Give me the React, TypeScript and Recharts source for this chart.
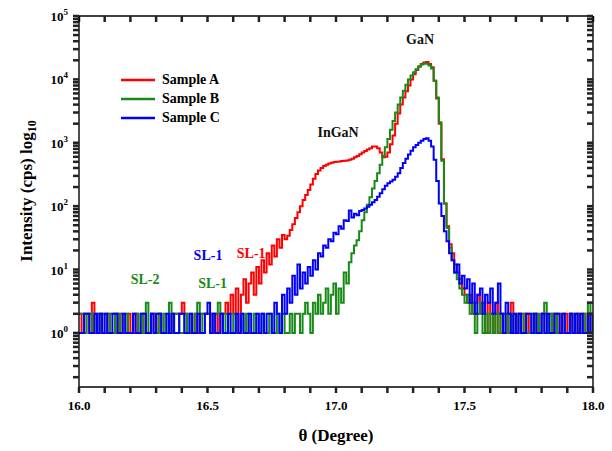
import { LineChart, Line, XAxis, YAxis, Legend, ReferenceDot } from 'recharts';

// theta runs 16.00 .. 18.00 in 0.01 steps, one value per step
const thetaStart = 16;
const thetaStep = 0.01;

const sampleA = [
  2, 1, 2, 2, 1, 3, 1, 1, 2, 1,
  1, 2, 1, 1, 2, 1, 2, 1, 1, 2,
  1, 1, 2, 1, 1, 2, 1, 1, 2, 1,
  1, 2, 1, 1, 1, 1, 2, 2, 2, 2,
  3, 2, 1, 1, 1, 2, 1, 2, 2, 2,
  2, 2, 1, 2, 1, 2, 2, 3, 2, 4,
  2, 5, 1, 4, 7, 3, 6, 9, 4, 11,
  6, 14, 9, 18, 12, 24, 16, 30, 22, 35,
  30, 34, 42, 52, 65, 80, 100, 125, 150, 180,
  220, 270, 320, 365, 400, 430, 450, 470, 485, 495,
  500, 505, 515, 520, 525, 540, 560, 590, 620, 660,
  700, 740, 780, 820, 870, 870, 820, 700, 590, 600,
  700, 950, 1300, 2000, 2900, 4000, 5200, 6500, 8000, 10000,
  12000, 14000, 16000, 17500, 18500, 18800, 17500, 15500, 9500, 5000,
  2000, 550, 110, 48, 25, 18, 12, 9, 7, 5,
  4, 3, 4, 2, 3, 4, 2, 3, 1, 3,
  2, 1, 3, 2, 1, 2, 2, 1, 3, 1,
  1, 2, 2, 1, 2, 1, 1, 2, 1, 1,
  2, 2, 1, 1, 2, 1, 2, 1, 1, 2,
  1, 2, 1, 1, 2, 1, 2, 1, 2, 1,
  1,
];

const sampleB = [
  2, 2, 1, 2, 2, 1, 2, 2, 1, 2,
  2, 1, 2, 2, 1, 2, 1, 1, 2, 1,
  1, 2, 2, 1, 2, 1, 3, 1, 2, 2,
  1, 2, 1, 2, 1, 3, 1, 2, 2, 1,
  1, 2, 1, 2, 1, 2, 3, 1, 2, 2,
  2, 1, 2, 2, 3, 2, 1, 2, 1, 1,
  2, 1, 1, 2, 1, 2, 1, 1, 2, 1,
  1, 2, 1, 1, 2, 1, 1, 2, 1, 2,
  1, 1, 2, 1, 2, 2, 1, 2, 3, 2,
  1, 3, 2, 4, 2, 3, 5, 2, 4, 6,
  2, 5, 3, 9, 6, 13, 18, 24, 29, 40,
  60, 80, 105, 138, 190, 250, 330, 450, 620, 850,
  1150, 1600, 2200, 3000, 4000, 5200, 6600, 8200, 10000, 11500,
  13000, 14500, 16000, 17200, 17800, 17600, 16500, 14800, 9500, 5200,
  2100, 520, 110, 45, 22, 14, 9, 7, 5, 4,
  3, 4, 2, 3, 1, 2, 3, 1, 2, 1,
  2, 1, 2, 1, 2, 2, 1, 2, 1, 2,
  1, 2, 1, 2, 1, 1, 2, 1, 2, 1,
  2, 3, 1, 2, 1, 2, 1, 1, 2, 1,
  1, 2, 1, 2, 1, 1, 2, 1, 3, 1,
  2,
];

const sampleC = [
  1, 1, 2, 2, 1, 1, 2, 1, 2, 1,
  2, 1, 1, 2, 2, 1, 1, 2, 1, 1,
  1, 2, 1, 1, 2, 2, 1, 1, 2, 1,
  2, 2, 1, 1, 2, 1, 2, 1, 1, 2,
  2, 1, 1, 2, 1, 1, 2, 1, 1, 2,
  3, 1, 2, 1, 1, 2, 1, 1, 2, 1,
  1, 2, 1, 2, 1, 1, 2, 1, 1, 2,
  1, 2, 1, 2, 2, 1, 3, 2, 1, 4,
  2, 5, 3, 8, 4, 12, 5, 9, 6, 11,
  8, 14, 10, 18, 16, 24, 22, 30, 28, 38,
  36, 48, 44, 60, 58, 85, 66, 76, 72, 84,
  87, 92, 98, 105, 115, 125, 140, 160, 185, 210,
  230, 245, 260, 290, 330, 400, 480, 560, 650, 750,
  850, 920, 1000, 1080, 1150, 1180, 1080, 870, 540, 250,
  110, 70, 40, 28, 18, 14, 9, 12, 6, 8,
  5, 7, 3, 6, 2, 4, 5, 2, 4, 3,
  5, 2, 3, 6, 2, 1, 3, 2, 1, 2,
  1, 2, 1, 1, 2, 2, 1, 2, 1, 1,
  2, 1, 2, 1, 1, 2, 2, 1, 2, 1,
  1, 2, 1, 2, 1, 2, 1, 1, 2, 1,
  1,
];

const xTicks = [
  16.0, 16.1, 16.2, 16.3, 16.4, 16.5, 16.6, 16.7, 16.8, 16.9,
  17.0, 17.1, 17.2, 17.3, 17.4, 17.5, 17.6, 17.7, 17.8, 17.9, 18.0,
];

const yTicks = [
  0.2, 0.3, 0.4, 0.5, 0.6, 0.7, 0.8, 0.9,
  1, 2, 3, 4, 5, 6, 7, 8, 9,
  10, 20, 30, 40, 50, 60, 70, 80, 90,
  100, 200, 300, 400, 500, 600, 700, 800, 900,
  1000, 2000, 3000, 4000, 5000, 6000, 7000, 8000, 9000,
  10000, 20000, 30000, 40000, 50000, 60000, 70000, 80000, 90000,
  100000,
];

const series = [
  { key: 'a', name: 'Sample A', color: '#ff0000' },
  { key: 'b', name: 'Sample B', color: '#178a17' },
  { key: 'c', name: 'Sample C', color: '#0000ff' },
];

// text labels placed in data coordinates
const notes = [
  { text: 'GaN', theta: 17.327, value: 42700, color: '#111' },
  { text: 'InGaN', theta: 17.008, value: 1460, color: '#111' },
  { text: 'SL-2', theta: 16.257, value: 7.1, color: '#178a17' },
  { text: 'SL-1', theta: 16.502, value: 17, color: '#0000ff' },
  { text: 'SL-1', theta: 16.52, value: 6.1, color: '#178a17' },
  { text: 'SL-1', theta: 16.67, value: 18, color: '#ff0000' },
];

const data = sampleA.map((v, i) => ({
  theta: +(thetaStart + i * thetaStep).toFixed(2),
  a: v,
  b: sampleB[i],
  c: sampleC[i],
}));

const serif = "'Liberation Serif', 'Times New Roman', serif";
const ink = '#000';
const tickLine = { stroke: '#222', strokeWidth: 2.5 };

const isDecade = (v: number) => {
  const e = Math.log10(v);
  return Math.abs(e - Math.round(e)) < 1e-6;
};

// bottom axis: label only on 0.5 steps
const BottomTick = (props: any) => {
  const { x, y, payload } = props;
  const v = payload.value;
  const major = Math.round(v * 10) % 5 === 0;
  return (
    <text x={x} y={y + 9} textAnchor="middle" fontFamily={serif} fontWeight="bold" fontSize={13} fill={ink}>
      {major ? v.toFixed(1) : ''}
    </text>
  );
};

// left axis: label only on decades, as 10^n
const LeftTick = (props: any) => {
  const { x, y, payload } = props;
  const v = payload.value;
  if (!(isDecade(v) && v >= 1)) return <text x={x} y={y} />;
  return (
    <text x={x - 2} y={y + 5} textAnchor="end" fontFamily={serif} fontWeight="bold" fontSize={13} fill={ink}>
      10<tspan dy={-6} fontSize={9}>{Math.round(Math.log10(v))}</tspan>
    </text>
  );
};

const YTitle = () => (
  <text
    x={32}
    y={191}
    transform="rotate(-90, 32, 191)"
    textAnchor="middle"
    fontFamily={serif}
    fontWeight="bold"
    fontSize={17}
    fill={ink}
  >
    Intensity (cps) log<tspan dy={4} fontSize={12}>10</tspan>
  </text>
);

const LegendBox = () => (
  <div style={{ fontFamily: serif, fontWeight: 'bold', fontSize: 14, color: ink }}>
    {series.map((s) => (
      <div key={s.key} style={{ display: 'flex', alignItems: 'center', height: 19 }}>
        <svg width={34} height={6}>
          <line x1={0} y1={3} x2={34} y2={3} stroke={s.color} strokeWidth={2.5} />
        </svg>
        <span style={{ marginLeft: 7 }}>{s.name}</span>
      </div>
    ))}
  </div>
);

export default function App() {
  return (
    <div style={{ position: 'fixed', left: 0, top: 0, width: 612, height: 451, background: '#fff' }}>
      <LineChart width={612} height={451} data={data} margin={{ top: 16, right: 19, bottom: 34, left: 19 }}>
        <XAxis
          dataKey="theta"
          type="number"
          domain={[16, 18]}
          ticks={xTicks}
          interval={0}
          allowDataOverflow
          tickSize={6}
          tickMargin={8}
          height={30}
          stroke={ink}
          strokeWidth={1.4}
          tickLine={tickLine}
          tick={<BottomTick />}
          label={{ value: 'θ (Degree)', position: 'bottom', offset: 12, fontFamily: serif, fontWeight: 'bold', fontSize: 17, fill: ink }}
        />
        <XAxis
          xAxisId="top"
          orientation="top"
          mirror
          dataKey="theta"
          type="number"
          domain={[16, 18]}
          ticks={xTicks}
          interval={0}
          allowDataOverflow
          tickSize={6}
          tickLine={tickLine}
          tickFormatter={() => ''}
          stroke={ink}
          strokeWidth={1.4}
        />
        <YAxis
          scale="log"
          type="number"
          domain={[0.14, 100000]}
          ticks={yTicks}
          interval={0}
          allowDataOverflow
          width={60}
          tickSize={6}
          tickMargin={3}
          stroke={ink}
          strokeWidth={1.4}
          tickLine={tickLine}
          tick={<LeftTick />}
          label={<YTitle />}
        />
        <YAxis
          yAxisId="right"
          orientation="right"
          mirror
          scale="log"
          type="number"
          domain={[0.14, 100000]}
          ticks={yTicks}
          interval={0}
          allowDataOverflow
          width={10}
          tickSize={6}
          tickLine={tickLine}
          tickFormatter={() => ''}
          stroke={ink}
          strokeWidth={1.4}
        />
        <Legend
          layout="vertical"
          align="center"
          verticalAlign="middle"
          wrapperStyle={{ position: 'absolute', left: 121, top: 70, width: 120 }}
          content={<LegendBox />}
        />
        {series.map((s) => (
          <Line
            key={s.key}
            dataKey={s.key}
            name={s.name}
            type="stepAfter"
            stroke={s.color}
            strokeWidth={2}
            dot={false}
            isAnimationActive={false}
          />
        ))}
        {notes.map((n, i) => (
          <ReferenceDot
            key={i}
            x={n.theta}
            y={n.value}
            r={0}
            ifOverflow="visible"
            shape={(p: any) => (
              <text
                x={p.cx}
                y={p.cy + 5}
                textAnchor="middle"
                fontFamily={serif}
                fontWeight="bold"
                fontSize={14}
                fill={n.color}
              >
                {n.text}
              </text>
            )}
          />
        ))}
      </LineChart>
    </div>
  );
}
